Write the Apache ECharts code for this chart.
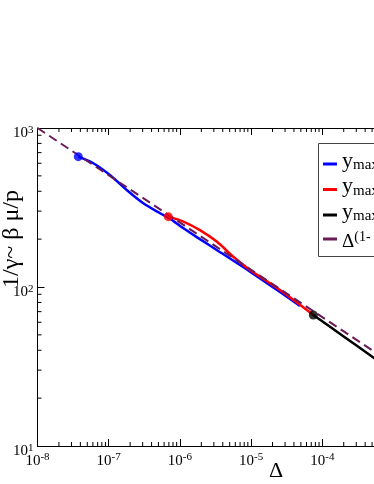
<!DOCTYPE html>
<html>
<head>
<meta charset="utf-8">
<script src="https://cdn.jsdelivr.net/npm/echarts@6/dist/echarts.min.js"></script>
<style>
html,body{margin:0;padding:0;background:#fff;}
#c{width:374px;height:484px;}
</style>
</head>
<body>
<div id="c"></div>
<script>
// ---- data ----
const blueX = [3.74e-8, 6.08e-8, 1.04e-7, 1.79e-7, 3.06e-7, 5.26e-7, 6.9e-7, 1.12e-6, 1.91e-6, 3.29e-6, 9.66e-6, 2.55e-5, 4.86e-5];
const blueY = [660, 600, 506, 407, 336, 291, 273, 234, 200, 171, 125, 93, 76];
const redX = [6.87e-7, 1.12e-6, 1.91e-6, 3.29e-6, 5.62e-6, 9.66e-6, 2.55e-5, 7.48e-5];
const redY = [277, 258, 228, 193, 155, 128, 95.7, 66.7];
const blackX = [7.48e-5, 2.02e-4, 5.32e-4, 1e-3];
const blackY = [66.7, 48.7, 35.8, 29.3];
const dashX = [1e-8, 1e-3];
const dashY = [1000, 32.6];
const seriesNames = ['ymax1', 'ymax2', 'ymax3', 'delta'];
const seriesColors = ['#0000ff', '#ff0000', '#000000', '#6b1b58'];
const xTickExps = [-8, -7, -6, -5, -4, -3];
const yTickExps = [1, 2, 3];
const minorMantissas = [2, 3, 4, 5, 6, 7, 8, 9];

const FONT = '"Liberation Serif", "DejaVu Serif", serif';
const zip = (xs, ys) => xs.map((x, i) => [x, ys[i]]);

const xMinor = [];
for (let e = xTickExps[0]; e < xTickExps[xTickExps.length - 1]; e++)
  minorMantissas.forEach(m => xMinor.push([m * Math.pow(10, e), 10]));
const yMinor = [];
for (let e = yTickExps[0]; e < yTickExps[yTickExps.length - 1]; e++)
  minorMantissas.forEach(m => yMinor.push([1e-8, m * Math.pow(10, e)]));

const expLabel = v => '{b|10}{s|' + Math.round(Math.log10(v)) + '}';
const labelRich = {
  b: {fontSize: 15, fontFamily: FONT, color: '#000', lineHeight: 16, padding: [2, 0, 0, 0]},
  s: {fontSize: 11, fontFamily: FONT, color: '#000', lineHeight: 11, verticalAlign: 'top'}
};

const legendText = {
  ymax1: '{y|y}{sub|max}',
  ymax2: '{y|y}{sub|max}',
  ymax3: '{y|y}{sub|max}',
  delta: '{d|Δ}{sup|(1-}'
};

const chart = echarts.init(document.getElementById('c'), null, {renderer: 'canvas'});
const axisLine = {show: true, lineStyle: {color: '#000', width: 1}};
chart.setOption({
  animation: false,
  backgroundColor: '#fff',
  grid: {left: 37.5, top: 128, width: 356, height: 318, containLabel: false, outerBoundsMode: 'none'},
  xAxis: [{
    type: 'log', logBase: 10, min: 1e-8, max: 1e-3, position: 'bottom',
    axisLine: axisLine, splitLine: {show: false},
    axisTick: {show: true, inside: true, length: 7, lineStyle: {color: '#000'}},
    axisLabel: {show: true, margin: 6, formatter: expLabel, rich: labelRich, hideOverlap: false}
  }, {
    type: 'log', logBase: 10, min: 1e-8, max: 1e-3, position: 'top',
    axisLine: axisLine, splitLine: {show: false},
    axisTick: {show: true, inside: true, length: 7, lineStyle: {color: '#000'}},
    axisLabel: {show: false}
  }],
  yAxis: [{
    type: 'log', logBase: 10, min: 10, max: 1000, position: 'left',
    axisLine: axisLine, splitLine: {show: false},
    axisTick: {show: true, inside: true, length: 7, lineStyle: {color: '#000'}},
    axisLabel: {show: true, margin: 4, padding: [9, 0, 0, 0], formatter: expLabel, rich: labelRich}
  }],
  legend: {
    orient: 'vertical', left: 318, top: 143,
    data: seriesNames.map((n, i) => ({name: n, itemStyle: {color: seriesColors[i], borderWidth: 0}})),
    icon: 'rect', itemWidth: 14, itemHeight: 3, itemGap: -2.5,
    padding: [7, 0, 8, 5],
    borderWidth: 0,
    selectedMode: false,
    formatter: n => legendText[n],
    textStyle: {
      fontFamily: FONT, color: '#000',
      rich: {
        y: {fontSize: 22, fontFamily: FONT, color: '#000', lineHeight: 18, padding: [0, 0, 6, 0]},
        sub: {fontSize: 15, fontFamily: FONT, color: '#000', lineHeight: 14, verticalAlign: 'bottom', padding: [0, 0, 0, 0]},
        d: {fontSize: 19, fontFamily: FONT, color: '#000', lineHeight: 18, padding: [6, 0, 0, 0]},
        sup: {fontSize: 14, fontFamily: FONT, color: '#000', lineHeight: 13, verticalAlign: 'top'}
      }
    }
  },
  graphic: [{
    type: 'rect', z: 90,
    shape: {x: 318.5, y: 143.5, width: 120, height: 113},
    style: {fill: 'none', stroke: '#444', lineWidth: 1}
  }, {
    type: 'text', x: 12, y: 239, rotation: Math.PI / 2,
    style: {text: '1/γ~ β μ/p', font: '24px ' + FONT, fill: '#000', align: 'center', verticalAlign: 'middle'}
  }, {
    type: 'text', x: 276, y: 471,
    style: {text: 'Δ', font: '22px ' + FONT, fill: '#000', align: 'center', verticalAlign: 'middle'}
  }],
  series: [{
    name: 'ymax1', type: 'line', data: zip(blueX, blueY), smooth: 0.3, showSymbol: false,
    lineStyle: {color: seriesColors[0], width: 2.5}, itemStyle: {color: seriesColors[0]}, z: 2
  }, {
    name: 'ymax2', type: 'line', data: zip(redX, redY), smooth: 0.3, showSymbol: false,
    lineStyle: {color: seriesColors[1], width: 2.5}, itemStyle: {color: seriesColors[1]}, z: 3
  }, {
    name: 'ymax3', type: 'line', data: zip(blackX, blackY), smooth: 0.3, showSymbol: false,
    lineStyle: {color: seriesColors[2], width: 2.5}, itemStyle: {color: seriesColors[2]}, z: 4
  }, {
    name: 'delta', type: 'line', data: zip(dashX, dashY), showSymbol: false,
    lineStyle: {color: seriesColors[3], width: 2, type: [9, 5]}, itemStyle: {color: seriesColors[3]}, z: 5
  }, {
    type: 'scatter', data: [[blueX[0], blueY[0]]], symbolSize: 9, itemStyle: {color: seriesColors[0]}, z: 6, silent: true
  }, {
    type: 'scatter', data: [[redX[0], redY[0]]], symbolSize: 9, itemStyle: {color: seriesColors[1]}, z: 6, silent: true
  }, {
    type: 'scatter', data: [[blackX[0], blackY[0]]], symbolSize: 9, itemStyle: {color: seriesColors[2]}, z: 6, silent: true
  }, {
    type: 'custom', data: xMinor, silent: true, z: 1, clip: false,
    renderItem: (params, api) => {
      const b = api.coord([api.value(0), 10]);
      const t = api.coord([api.value(0), 1000]);
      return {type: 'group', children: [
        {type: 'line', shape: {x1: b[0], y1: b[1], x2: b[0], y2: b[1] - 4}, style: {stroke: '#000', lineWidth: 1}},
        {type: 'line', shape: {x1: t[0], y1: t[1], x2: t[0], y2: t[1] + 4}, style: {stroke: '#000', lineWidth: 1}}
      ]};
    }
  }, {
    type: 'custom', data: yMinor, silent: true, z: 1, clip: false,
    renderItem: (params, api) => {
      const p = api.coord([1e-8, api.value(1)]);
      return {type: 'line', shape: {x1: p[0], y1: p[1], x2: p[0] + 4, y2: p[1]}, style: {stroke: '#000', lineWidth: 1}};
    }
  }]
});
</script>
</body>
</html>
